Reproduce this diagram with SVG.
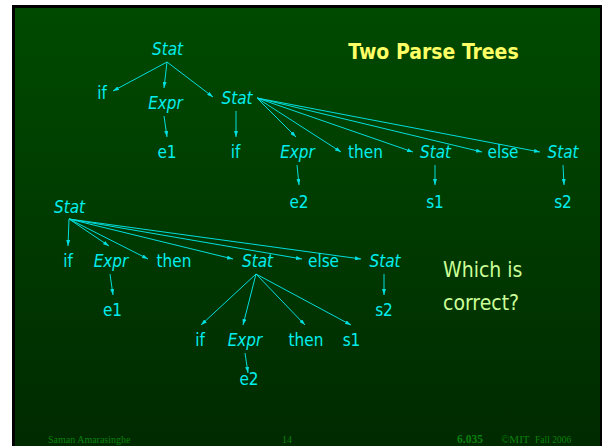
<svg xmlns="http://www.w3.org/2000/svg" width="602" height="446" viewBox="0 0 602 446">
<defs>
<linearGradient id="bg" x1="0" y1="0" x2="0" y2="1">
<stop offset="0" stop-color="#004a00"/>
<stop offset="1" stop-color="#002a00"/>
</linearGradient>
<marker id="ah" viewBox="0 0 6 4" refX="6" refY="2" markerWidth="6" markerHeight="4" markerUnits="userSpaceOnUse" orient="auto">
<path d="M0,0 L6,2 L0,4 Z" fill="#00e0e0"/>
</marker>
<style>
.t{font-family:"DejaVu Sans Condensed","DejaVu Sans",sans-serif;font-size:17px;fill:#00eeee;text-anchor:middle}
.i{font-style:italic}
.c line{stroke:#00dddd;stroke-width:1;marker-end:url(#ah)}
.f{font-family:"Liberation Serif",serif;fill:#0c800c}
</style>
</defs>
<rect x="0" y="0" width="602" height="446" fill="#ffffff"/>
<rect x="12" y="5" width="590" height="441" fill="#000000"/>
<rect x="15" y="8" width="585" height="438" fill="url(#bg)"/>
<text x="433.5" y="59" font-family="DejaVu Sans Condensed, DejaVu Sans, sans-serif" font-weight="bold" font-size="21" fill="#ffff66" text-anchor="middle">Two Parse Trees</text>
<g class="c" id="connectors">
<line x1="167" y1="62" x2="113" y2="91"/>
<line x1="167" y1="62" x2="164" y2="88"/>
<line x1="167" y1="62" x2="213" y2="97"/>
<line x1="164" y1="116" x2="167" y2="137"/>
<line x1="236" y1="111" x2="236" y2="137"/>
<line x1="257" y1="98" x2="296" y2="137"/>
<line x1="257" y1="98" x2="341" y2="152"/>
<line x1="257" y1="98" x2="413" y2="152"/>
<line x1="257" y1="98" x2="482" y2="152"/>
<line x1="257" y1="98" x2="540" y2="152"/>
<line x1="297" y1="165" x2="299" y2="185"/>
<line x1="435" y1="165" x2="435" y2="185"/>
<line x1="563" y1="165" x2="564" y2="185"/>
<line x1="69" y1="219" x2="68" y2="246"/>
<line x1="69" y1="219" x2="109" y2="246"/>
<line x1="69" y1="219" x2="148" y2="259"/>
<line x1="69" y1="219" x2="233" y2="259"/>
<line x1="69" y1="219" x2="302" y2="259"/>
<line x1="69" y1="219" x2="361" y2="259"/>
<line x1="110" y1="274" x2="113" y2="295"/>
<line x1="384" y1="274" x2="384" y2="295"/>
<line x1="256" y1="274" x2="201" y2="325"/>
<line x1="256" y1="274" x2="243" y2="325"/>
<line x1="256" y1="274" x2="305" y2="325"/>
<line x1="256" y1="274" x2="351" y2="325"/>
<line x1="245" y1="353" x2="248" y2="373"/>
</g>
<g id="n1"><text class="t i" x="167.5" y="55">Stat</text></g>
<g id="n2"><text class="t" x="102" y="99">if</text></g>
<g id="n3"><text class="t i" x="165.5" y="109">Expr</text></g>
<g id="n4"><text class="t i" x="237" y="104">Stat</text></g>
<g id="n5"><text class="t" x="167" y="158">e1</text></g>
<g id="n6"><text class="t" x="235.5" y="158">if</text></g>
<g id="n7"><text class="t i" x="297.5" y="158">Expr</text></g>
<g id="n8"><text class="t" x="365.5" y="158">then</text></g>
<g id="n9"><text class="t i" x="435.5" y="158">Stat</text></g>
<g id="n10"><text class="t" x="503" y="158">else</text></g>
<g id="n11"><text class="t i" x="563" y="158">Stat</text></g>
<g id="n12"><text class="t" x="299" y="208">e2</text></g>
<g id="n13"><text class="t" x="435" y="208">s1</text></g>
<g id="n14"><text class="t" x="563" y="208">s2</text></g>
<g id="m1"><text class="t i" x="69.5" y="213">Stat</text></g>
<g id="m2"><text class="t" x="68" y="267">if</text></g>
<g id="m3"><text class="t i" x="111" y="267">Expr</text></g>
<g id="m4"><text class="t" x="174" y="267">then</text></g>
<g id="m5"><text class="t i" x="257.5" y="267">Stat</text></g>
<g id="m6"><text class="t" x="323.5" y="267">else</text></g>
<g id="m7"><text class="t i" x="385" y="267">Stat</text></g>
<g id="m8"><text class="t" x="112.5" y="316">e1</text></g>
<g id="m9"><text class="t" x="384" y="316">s2</text></g>
<g id="m10"><text class="t" x="200" y="346">if</text></g>
<g id="m11"><text class="t i" x="245" y="346">Expr</text></g>
<g id="m12"><text class="t" x="306" y="346">then</text></g>
<g id="m13"><text class="t" x="351.5" y="346">s1</text></g>
<g id="m14"><text class="t" x="249" y="385">e2</text></g>
<text x="443" y="277" font-family="DejaVu Sans Condensed, DejaVu Sans, sans-serif" font-size="21" fill="#ccff99">Which is</text>
<text x="443" y="310" font-family="DejaVu Sans Condensed, DejaVu Sans, sans-serif" font-size="21" fill="#ccff99">correct?</text>
<text class="f" x="48" y="443" font-size="10">Saman Amarasinghe</text>
<text class="f" x="282" y="443" font-size="10">14</text>
<text class="f" x="457" y="443" font-size="11.5" font-weight="bold">6.035</text>
<text class="f" x="501" y="443" font-size="11">©MIT</text>
<text class="f" x="535" y="443" font-size="9.5">Fall 2006</text>
</svg>
